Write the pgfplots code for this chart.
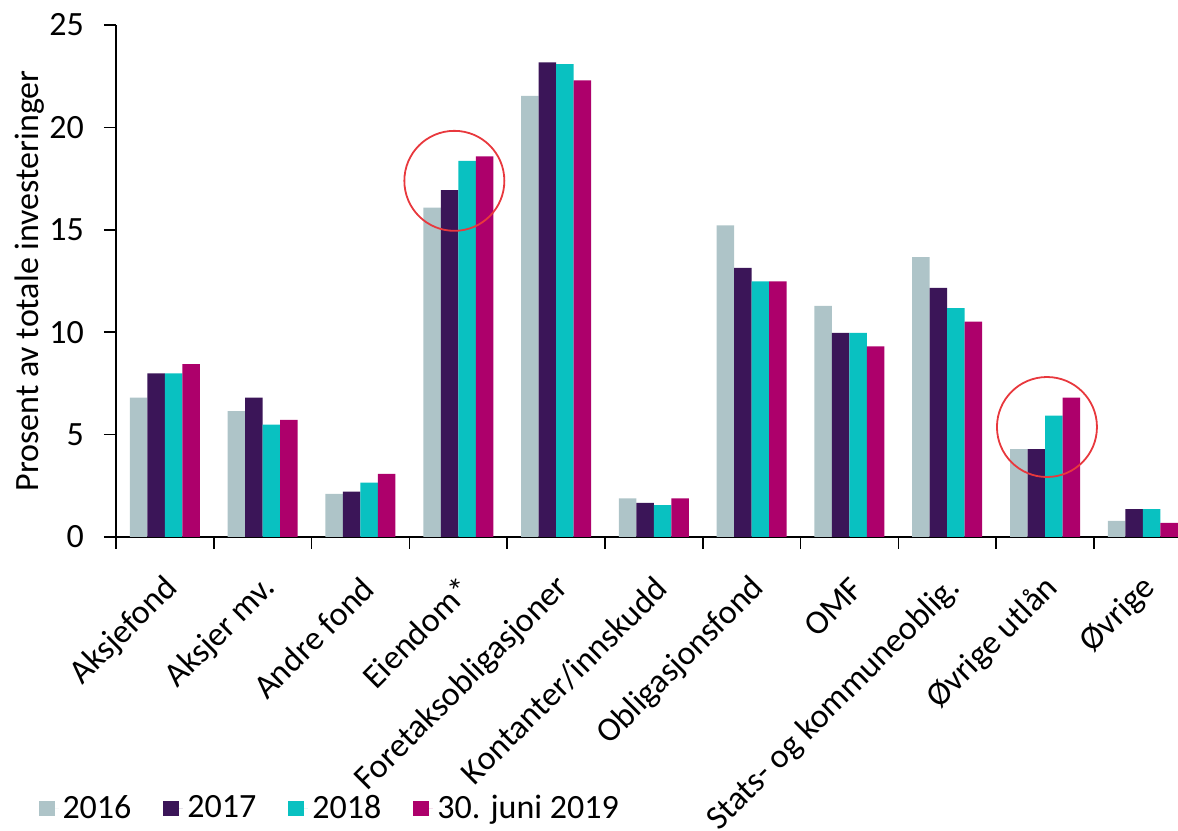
\documentclass[border=0pt]{standalone}
\usepackage{pgfplots}
\pgfplotsset{compat=1.18}
\usepackage{fontspec}
\setmainfont{Carlito}
\usetikzlibrary{calc}
\definecolor{c16}{HTML}{AEC4C8}
\definecolor{c17}{HTML}{3B1558}
\definecolor{c18}{HTML}{09C1C1}
\definecolor{c19}{HTML}{AD006B}
\definecolor{circ}{HTML}{E8383D}
\newcommand{\fs}{\fontsize{17}{20}\selectfont}
\begin{document}
\begin{tikzpicture}
\begin{axis}[
  name=ax,
  scale only axis, width=531pt, height=256pt,
  ybar=0pt, bar width=8.75pt,
  xmin=-0.5, xmax=10.36, ymin=0, ymax=25,
  axis x line*=bottom, axis y line*=left,
  axis line style={black, line width=0.8pt, -},
  tick align=outside,
  xtick={0,...,10},
  xticklabels={Aksjefond,Aksjer mv.,Andre fond,Eiendom*,Foretaksobligasjoner,Kontanter/innskudd,Obligasjonsfond,OMF,Stats- og kommuneoblig.,Øvrige utlån,Øvrige},
  major x tick style={draw=none},
  minor xtick={-0.5,0.5,1.5,2.5,3.5,4.5,5.5,6.5,7.5,8.5,9.5},
  minor x tick style={black, line width=0.8pt},
  minor tick length=6pt,
  x tick label style={xshift=4pt, yshift=-17pt, rotate=45, anchor=east, font=\fs, inner sep=0pt},
  ytick={0,5,10,15,20,25},
  major tick length=6pt,
  y tick style={black, line width=0.8pt},
  y tick label style={font=\fs, xshift=-6.5pt},
  /pgf/number format/assume math mode=true,
  ylabel={Prosent av totale investeringer},
  ylabel style={font=\fs, at={(axis description cs:-0.081,0.5)}, rotate=0, anchor=center},
  legend columns=4,
  legend style={draw=none, fill=none, font=\fontsize{17}{20}\selectfont, at={(axis description cs:-0.079,-0.53)}, anchor=west,
    /tikz/every even column/.append style={column sep=14pt}},
  legend image code/.code={\fill[#1] (0pt,-3.75pt) rectangle (8pt,3.75pt); \path (0pt,0pt) rectangle (10pt,0pt);},
]
\addplot[fill=c16, draw=none] coordinates {(0,6.80) (1,6.15) (2,2.10) (3,16.08) (4,21.54) (5,1.88) (6,15.22) (7,11.28) (8,13.67) (9,4.29) (10,0.79)};
\addplot[fill=c17, draw=none] coordinates {(0,7.99) (1,6.80) (2,2.22) (3,16.94) (4,23.18) (5,1.67) (6,13.14) (7,9.97) (8,12.16) (9,4.29) (10,1.36)};
\addplot[fill=c18, draw=none] coordinates {(0,7.99) (1,5.49) (2,2.65) (3,18.37) (4,23.09) (5,1.55) (6,12.48) (7,9.97) (8,11.17) (9,5.92) (10,1.36)};
\addplot[fill=c19, draw=none] coordinates {(0,8.44) (1,5.72) (2,3.08) (3,18.58) (4,22.30) (5,1.88) (6,12.48) (7,9.31) (8,10.52) (9,6.80) (10,0.69)};
\legend{2016,2017,2018,30. juni 2019}
\draw[circ, line width=0.9pt] (axis cs:2.96,17.39) circle [radius=25pt];
\draw[circ, line width=0.9pt] (axis cs:9.02,5.37) circle [radius=25pt];
\end{axis}
\pgfresetboundingbox
\useasboundingbox ($(ax.south west)+(-58pt,-147pt)$) rectangle ($(ax.north east)+(0pt,12.5pt)$);
\end{tikzpicture}
\end{document}
